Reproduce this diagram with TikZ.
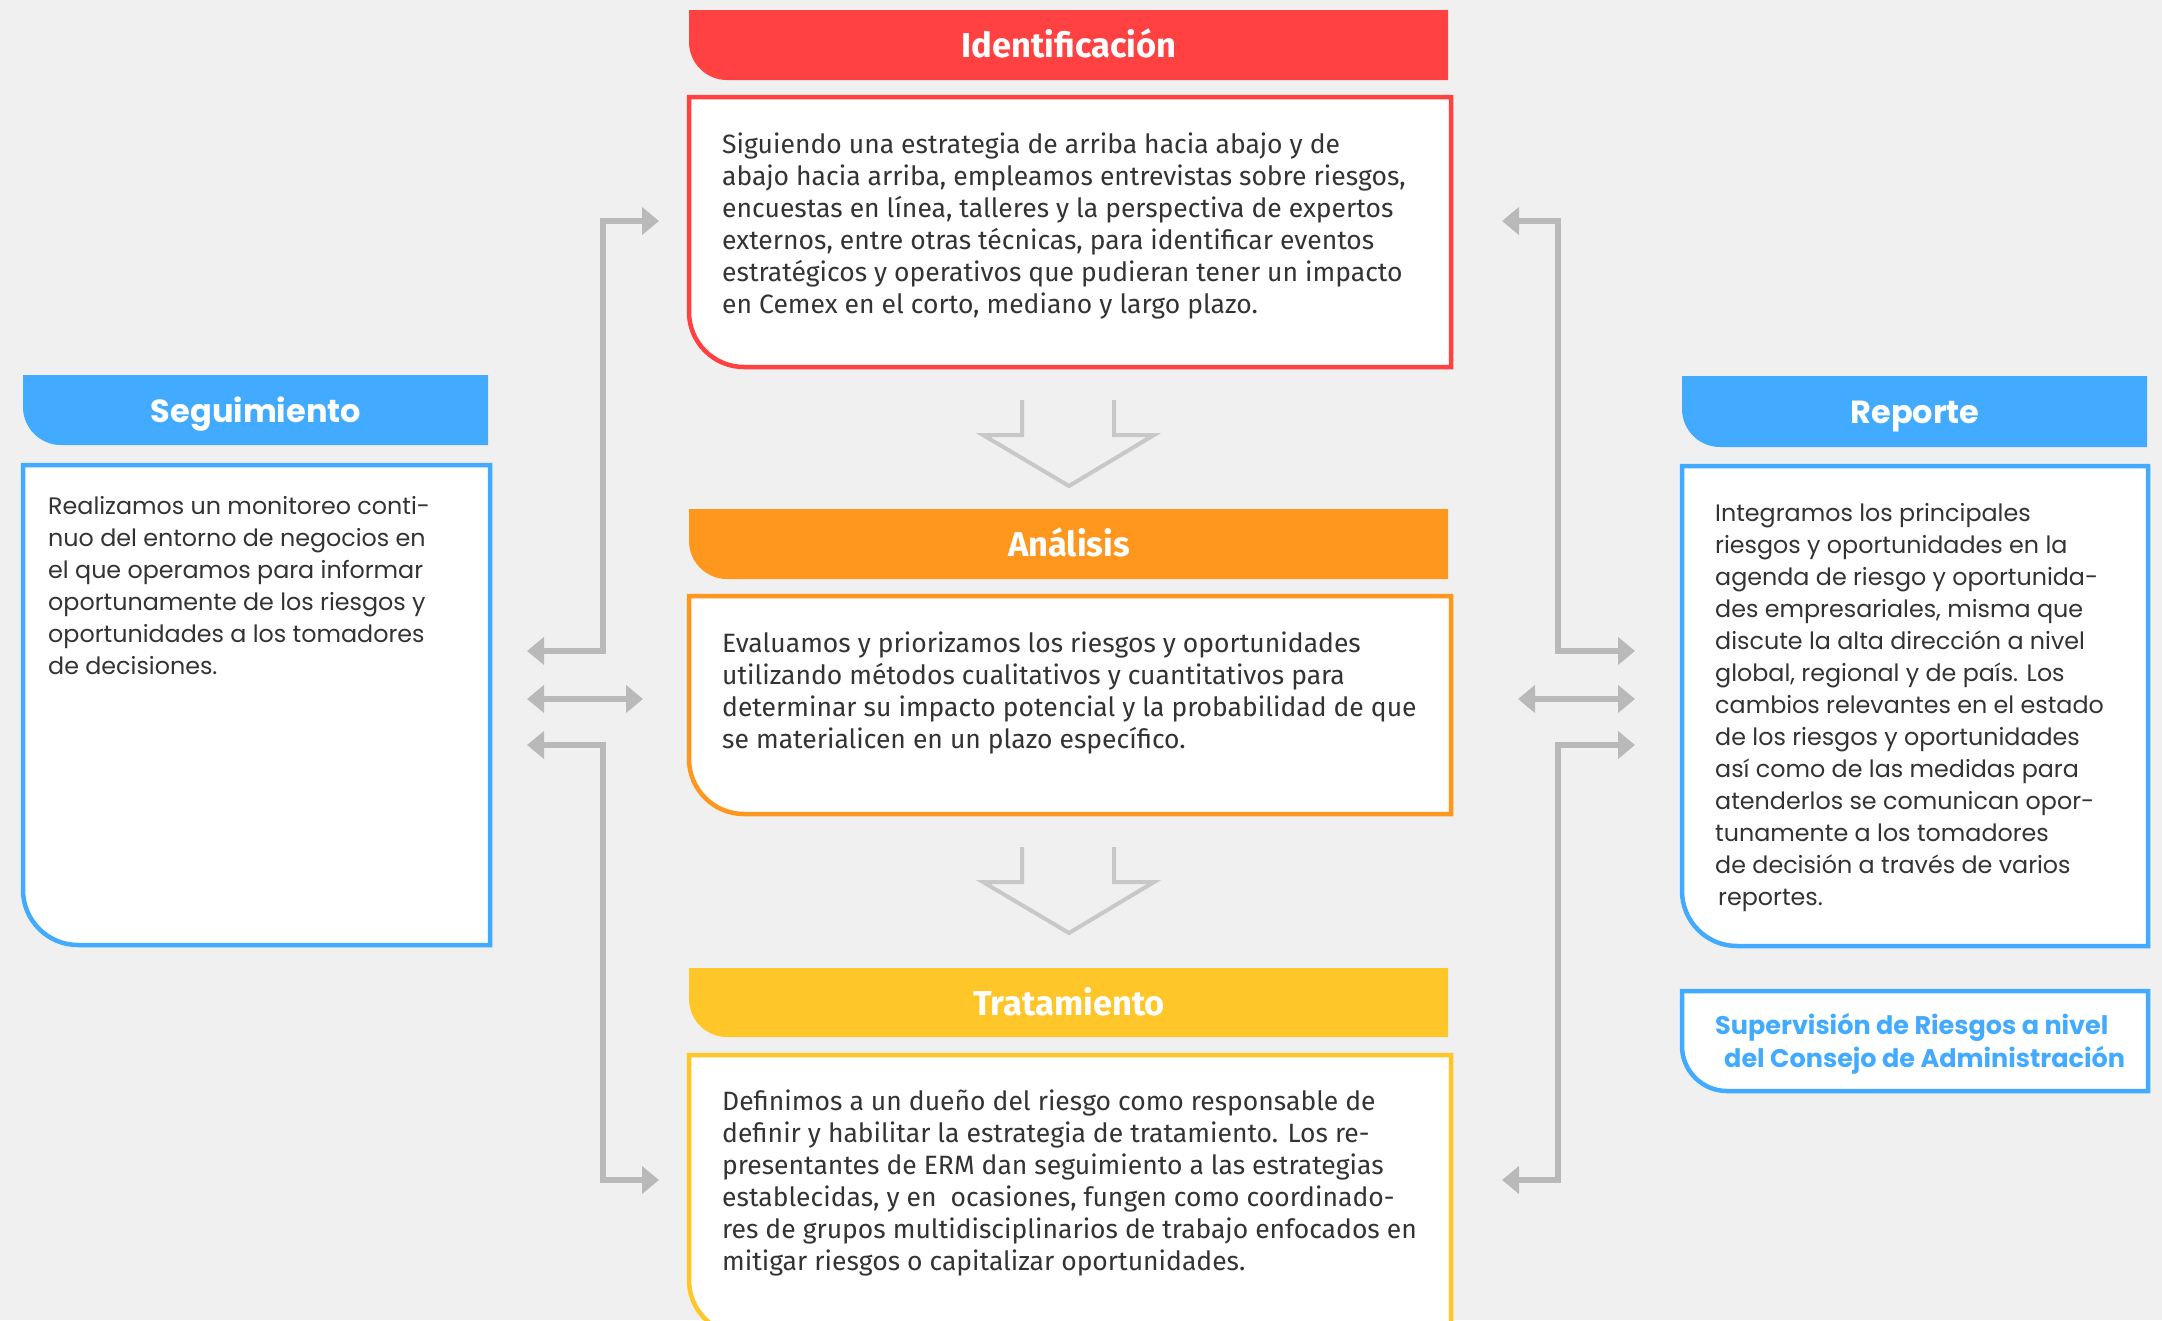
\documentclass[tikz,border=0pt]{standalone}
\usepackage{fontspec}
\usetikzlibrary{arrows.meta}
\newfontfamily\midfont{Fira Sans}
\newfontfamily\sidefont{Poppins}
\definecolor{bgGrey}{HTML}{F0F0F0}
\definecolor{identRed}{HTML}{FF4141}
\definecolor{analOrange}{HTML}{FF961E}
\definecolor{tratYellow}{HTML}{FFC629}
\definecolor{segBlue}{HTML}{42ABFF}
\definecolor{txtGrey}{HTML}{333333}
\definecolor{linkGrey}{HTML}{B9B9B9}
\definecolor{downGrey}{HTML}{C8C8C8}
% box with only the lower left corner rounded (x1,y1,x2,y2,radius)
\newcommand\tabshape[5]{(#1,#2) -- (#3,#2) -- (#3,#4) -- ({#1+#5},#4)
  .. controls ({#1+0.448*#5},#4) and (#1,{#4-0.448*#5}) .. (#1,{#4-#5}) -- cycle}
\begin{document}
\begin{tikzpicture}[x=1pt,y=-1pt,
    hdr/.style={text=white,inner sep=0pt,text height=24pt,text depth=0pt,
      font=\midfont\bfseries\fontsize{34.5}{34.5}\selectfont},
    sidehdr/.style={hdr,font=\sidefont\bfseries\fontsize{32}{32}\selectfont},
    midtxt/.style={anchor=north west,inner sep=0pt,align=left,text=txtGrey,
      font=\midfont\fontsize{26.5}{32}\selectfont},
    sidetxt/.style={midtxt,font=\sidefont\fontsize{23.8}{32}\selectfont},
    link/.style={draw=linkGrey,line width=5.5pt,
      {Triangle[length=17pt,width=27pt]}-{Triangle[length=17pt,width=27pt]}},
    downarr/.style={draw=downGrey,line width=4pt}]
  \useasboundingbox (0,0) rectangle (2162,1320);
  \fill[bgGrey] (0,0) rectangle (2162,1320);
  \clip (0,0) rectangle (2162,1320);

  % middle column
  \fill[identRed] \tabshape{689}{10}{1448}{80}{38};
  \filldraw[fill=white,draw=identRed,line width=4.5pt] \tabshape{689}{97}{1451}{367}{55};
  \node[hdr] (identhdr) at (1069,45) {Identificación};
  \node[midtxt] (identtxt) at (722,133) {Siguiendo una estrategia de arriba hacia abajo y de\\
    abajo hacia arriba, empleamos entrevistas sobre riesgos,\\
    encuestas en línea, talleres y la perspectiva de expertos\\
    externos, entre otras técnicas, para identificar eventos\\
    estratégicos y operativos que pudieran tener un impacto\\
    en Cemex en el corto, mediano y largo plazo.};

  \fill[analOrange] \tabshape{689}{509}{1448}{579}{38};
  \filldraw[fill=white,draw=analOrange,line width=4.5pt] \tabshape{689}{596}{1451}{814}{55};
  \node[hdr] (analhdr) at (1069,544) {Análisis};
  \node[midtxt] (analtxt) at (722,632) {Evaluamos y priorizamos los riesgos y oportunidades\\
    utilizando métodos cualitativos y cuantitativos para\\
    determinar su impacto potencial y la probabilidad de que\\
    se materialicen en un plazo específico.};

  \fill[tratYellow] \tabshape{689}{968}{1448}{1037}{38};
  \filldraw[fill=white,draw=tratYellow,line width=4.5pt] \tabshape{689}{1055}{1451}{1335}{55};
  \node[hdr] (trathdr) at (1069,1003) {Tratamiento};
  \node[midtxt] (trattxt) at (722,1090) {Definimos a un dueño del riesgo como responsable de\\
    definir y habilitar la estrategia de tratamiento. Los re-\\
    presentantes de ERM dan seguimiento a las estrategias\\
    establecidas, y en\ \ ocasiones, fungen como coordinado-\\
    res de grupos multidisciplinarios de trabajo enfocados en\\
    mitigar riesgos o capitalizar oportunidades.};

  % down arrows between the steps
  \foreach \top in {400,847}
    \draw[downarr] (1022,\top) -- ++(0,35) -- ++(-39,0) -- ++(86,51)
      -- ++(85,-51) -- ++(-40,0) -- ++(0,-35);

  % left column
  \fill[segBlue] \tabshape{23}{375}{488}{445}{38};
  \filldraw[fill=white,draw=segBlue,line width=4.5pt] \tabshape{23}{465}{490}{945}{55};
  \node[sidehdr] (seghdr) at (256,410) {Seguimiento};
  \node[sidetxt] (segtxt) at (48,496) {Realizamos un monitoreo conti-\\
    nuo del entorno de negocios en\\
    el que operamos para informar\\
    oportunamente de los riesgos y\\
    oportunidades a los tomadores\\
    de decisiones.};

  % right column
  \fill[segBlue] \tabshape{1682}{376}{2147}{447}{38};
  \filldraw[fill=white,draw=segBlue,line width=4.5pt] \tabshape{1682}{466}{2148}{946}{55};
  \node[sidehdr] (rephdr) at (1915,411) {Reporte};
  \node[sidetxt] (reptxt) at (1715,503) {Integramos los principales\\
    riesgos y oportunidades en la\\
    agenda de riesgo y oportunida-\\
    des empresariales, misma que\\
    discute la alta dirección a nivel\\
    global, regional y de país. Los\\
    cambios relevantes en el estado\\
    de los riesgos y oportunidades\\
    así como de las medidas para\\
    atenderlos se comunican opor-\\
    tunamente a los tomadores\\
    de decisión a través de varios\\
    \hspace*{3pt}reportes.};
  \filldraw[fill=white,draw=segBlue,line width=4.5pt] \tabshape{1682}{991}{2148}{1091}{45};
  \node[sidetxt,font=\sidefont\bfseries\fontsize{25.5}{33}\selectfont,text=segBlue]
    (boardtxt) at (1715,1013) {Supervisión de Riesgos a nivel\\
    \hspace*{9pt}del Consejo de Administración};

  % connectors
  \coordinate (segup) at (527,651);
  \coordinate (segmid) at (527,699);
  \coordinate (segdown) at (527,745);
  \coordinate (identin) at (659,221);
  \coordinate (analin) at (643,699);
  \coordinate (tratin) at (659,1180);
  \coordinate (identout) at (1502,221);
  \coordinate (analout) at (1518,699);
  \coordinate (tratout) at (1502,1180);
  \coordinate (repup) at (1635,651);
  \coordinate (repmid) at (1635,699);
  \coordinate (repdown) at (1635,745);
  \draw[link] (segup) -- ++(76,0) |- (identin);
  \draw[link] (segmid) -- (analin);
  \draw[link] (segdown) -- ++(76,0) |- (tratin);
  \draw[link] (identout) -- ++(56,0) |- (repup);
  \draw[link] (analout) -- (repmid);
  \draw[link] (tratout) -- ++(56,0) |- (repdown);
\end{tikzpicture}
\end{document}
